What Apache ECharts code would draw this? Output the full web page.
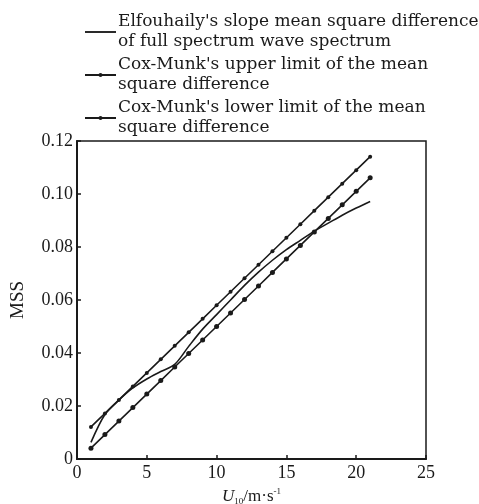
<!DOCTYPE html>
<html>
<head>
<meta charset="utf-8">
<script src="https://cdn.jsdelivr.net/npm/echarts@6/dist/echarts.min.js"></script>
<style>
  html, body { margin: 0; padding: 0; background: #fff; }
  #chart { width: 479px; height: 504px; }
</style>
</head>
<body>
<div id="chart"></div>
<script>
// wind speed U10 (m/s)
const windSpeed = [1, 2, 3, 4, 5, 6, 7, 8, 9, 10, 11, 12, 13, 14, 15, 16, 17, 18, 19, 20, 21];

// values
const elfouhaily = [0.0063, 0.0168, 0.0222, 0.0268, 0.0302, 0.0330, 0.0357, 0.0425, 0.0490, 0.0545,
    0.0600, 0.0655, 0.0705, 0.0750, 0.0790, 0.0825, 0.0860, 0.0890, 0.0920, 0.0947, 0.0972];
const coxMunkUpper = [0.0121, 0.0172, 0.0223, 0.0274, 0.0325, 0.0376, 0.0427, 0.0478, 0.0529, 0.0580,
    0.0631, 0.0682, 0.0733, 0.0784, 0.0835, 0.0886, 0.0937, 0.0988, 0.1039, 0.1090, 0.1141];
const coxMunkLower = [0.0041, 0.0092, 0.0143, 0.0194, 0.0245, 0.0296, 0.0347, 0.0398, 0.0449, 0.0500,
    0.0551, 0.0602, 0.0653, 0.0704, 0.0755, 0.0806, 0.0857, 0.0908, 0.0959, 0.1010, 0.1061];

const seriesNames = [
    "Elfouhaily's slope mean square difference\nof full spectrum wave spectrum",
    "Cox-Munk's upper limit of the mean\nsquare difference",
    "Cox-Munk's lower limit of the mean\nsquare difference"
];

const pair = (ys) => windSpeed.map((x, i) => [x, ys[i]]);
const ink = '#1a1a1a';
const serif = '"Liberation Serif", "DejaVu Serif", serif';
const wideSerif = '"DejaVu Serif", serif';

const chart = echarts.init(document.getElementById('chart'));
chart.setOption({
    animation: false,
    textStyle: { fontFamily: serif, color: ink },
    grid: {
        left: 77, right: 53, top: 141, bottom: 45,
        outerBoundsMode: 'none', containLabel: false,
        show: true, borderColor: ink, borderWidth: 1.5
    },
    legend: {
        orient: 'vertical',
        left: 79, top: 7,
        itemWidth: 31, itemHeight: 5, itemGap: 3,
        textStyle: { fontFamily: wideSerif, fontSize: 17, color: ink, lineHeight: 20, padding: [0, 0, 0, -3] },
        data: [
            { name: seriesNames[0], icon: 'path://M0,0L40,0L40,2.4L0,2.4Z' },
            { name: seriesNames[1] },
            { name: seriesNames[2] }
        ]
    },
    xAxis: {
        type: 'value', min: 0, max: 25, interval: 5,
        name: '{u|U}{sub|10}{n|/m·s}{sup|-1}',
        nameLocation: 'middle', nameGap: 26,
        nameTextStyle: {
            rich: {
                u: { fontFamily: serif, fontStyle: 'italic', fontSize: 17, color: ink },
                sub: { fontFamily: serif, fontSize: 9, color: ink, verticalAlign: 'bottom', padding: [8, 0, 0, 0] },
                n: { fontFamily: serif, fontSize: 17, color: ink },
                sup: { fontFamily: serif, fontSize: 9, color: ink, verticalAlign: 'top', padding: [0, 0, 10, 0] }
            }
        },
        axisLine: { lineStyle: { color: ink, width: 2 } },
        axisTick: { inside: true, length: 4, lineStyle: { color: ink, width: 1.5 } },
        axisLabel: { fontFamily: serif, fontSize: 18, color: ink, margin: 5 },
        splitLine: { show: false }
    },
    yAxis: {
        type: 'value', min: 0, max: 0.12, interval: 0.02,
        name: 'MSS', nameLocation: 'middle', nameGap: 49, nameRotate: 90,
        nameTextStyle: { fontFamily: serif, fontSize: 19, color: ink },
        axisLine: { show: true, lineStyle: { color: ink, width: 2 } },
        axisTick: { show: true, inside: true, length: 4, lineStyle: { color: ink, width: 1.5 } },
        axisLabel: {
            fontFamily: serif, fontSize: 18, color: ink, margin: 4,
            formatter: (v) => v === 0 ? '0' : v.toFixed(2)
        },
        splitLine: { show: false }
    },
    series: [
        {
            name: seriesNames[0], type: 'line', data: pair(elfouhaily), smooth: 0.3,
            symbol: 'none', lineStyle: { color: ink, width: 1.6 }, itemStyle: { color: ink }
        },
        {
            name: seriesNames[1], type: 'line', data: pair(coxMunkUpper),
            symbol: 'circle', symbolSize: 4,
            lineStyle: { color: ink, width: 1.6 }, itemStyle: { color: ink }
        },
        {
            name: seriesNames[2], type: 'line', data: pair(coxMunkLower),
            symbol: 'circle', symbolSize: 5,
            lineStyle: { color: ink, width: 1.6 }, itemStyle: { color: ink }
        }
    ]
});
</script>
</body>
</html>
